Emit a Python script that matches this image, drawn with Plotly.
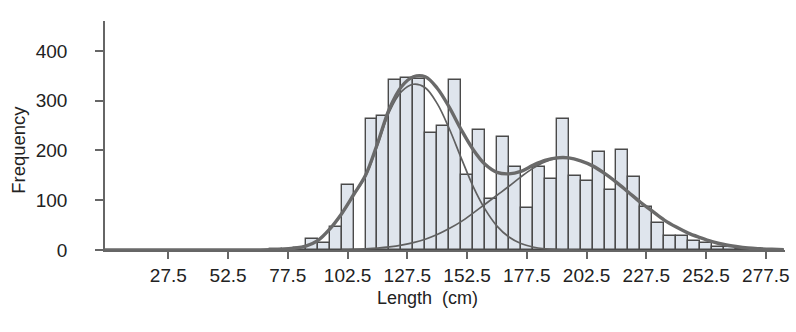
import plotly.graph_objects as go

# ---- histogram data (bin width 5 cm, bins centred on x.5 values) ----
bin_centers = [72.5, 77.5, 82.5, 87.5, 92.5, 97.5, 102.5, 107.5, 112.5, 117.5,
               122.5, 127.5, 132.5, 137.5, 142.5, 147.5, 152.5, 157.5, 162.5, 167.5,
               172.5, 177.5, 182.5, 187.5, 192.5, 197.5, 202.5, 207.5, 212.5, 217.5,
               222.5, 227.5, 232.5, 237.5, 242.5, 247.5, 252.5, 257.5, 262.5, 267.5,
               272.5]
frequencies = [2, 2, 5, 22, 14, 47, 130, 0, 264, 270,
               342, 345, 344, 235, 250, 341, 150, 242, 103, 227,
               167, 85, 166, 142, 263, 149, 138, 196, 121, 200,
               146, 86, 55, 29, 29, 18, 15, 6, 6, 3,
               1]

# ---- fitted curves ----
total_x = [0, 5, 10, 15, 20, 25, 30, 35, 40, 45, 50, 55, 60, 65, 70, 75, 80, 85, 90, 95,
           100, 105, 110, 115, 120, 125, 130, 135, 140, 145, 150, 155, 160, 165, 170,
           175, 180, 185, 190, 195, 200, 205, 210, 215, 220, 225, 230, 235, 240, 245,
           250, 255, 260, 265, 270, 275, 280, 285]
total_fit = [0, 0, 0, 0, 0, 0, 0, 0, 0, 0, 0, 0, 0, 0.2, 0.5, 1.3, 3.5, 8, 19, 42,
             73, 111, 150, 214, 284, 328, 348, 348, 325, 287, 242, 202, 172, 156, 153,
             158, 170, 180, 185, 185, 179, 169, 154, 136, 116, 96, 78, 60, 46, 34,
             25, 17, 11, 7, 4, 2.5, 1.5, 0.8]

comp1_x = [65, 70, 75, 80, 85, 90, 95, 100, 105, 110, 115, 120, 125, 130, 135, 140,
           145, 150, 155, 160, 165, 170, 175, 180, 185, 190, 195, 200]
comp1_fit = [0.2, 0.5, 1.3, 3.4, 8, 19, 42, 72, 110, 148, 210, 278, 318, 333, 326, 294,
             244, 185, 128, 82, 48, 26, 13, 6, 2.5, 1, 0.3, 0]

comp2_x = [100, 105, 110, 115, 120, 125, 130, 135, 140, 145, 150, 155, 160, 165, 170,
           175, 180, 185, 190, 195, 200, 205, 210, 215, 220, 225, 230, 235, 240, 245,
           250, 255, 260, 265, 270, 275, 280, 285]
comp2_fit = [0.7, 1.3, 2.3, 3.8, 6.2, 9.7, 14.7, 21.7, 31, 43, 57, 74, 92, 110, 128,
             147, 164, 177, 184, 185, 179, 169, 154, 136, 116, 96, 78, 60, 46, 34,
             25, 17, 11, 7, 4, 2.5, 1.5, 0.8]

x_tick_vals = [27.5, 52.5, 77.5, 102.5, 127.5, 152.5, 177.5, 202.5, 227.5, 252.5, 277.5]
x_tick_text = ["27.5", "52.5", "77.5", "102.5", "127.5", "152.5", "177.5", "202.5",
               "227.5", "252.5", "277.5"]
y_tick_vals = [0, 100, 200, 300, 400]
y_tick_text = ["0", "100", "200", "300", "400"]

FONT = "Liberation Sans, Arial, sans-serif"

fig = go.Figure()
fig.add_trace(go.Bar(
    x=bin_centers, y=frequencies, width=5,
    marker=dict(color="#dfe5ed", line=dict(color="#4a4a4a", width=1.4)),
    showlegend=False, hoverinfo="x+y"))
fig.add_trace(go.Scatter(
    x=comp1_x, y=comp1_fit, mode="lines", line=dict(color="#606060", width=1.7, shape="spline"),
    showlegend=False))
fig.add_trace(go.Scatter(
    x=comp2_x, y=comp2_fit, mode="lines", line=dict(color="#606060", width=1.7, shape="spline"),
    showlegend=False))
fig.add_trace(go.Scatter(
    x=total_x, y=total_fit, mode="lines", line=dict(color="#6a6a6a", width=3.4, shape="spline"),
    showlegend=False))

fig.update_layout(
    width=796, height=332, autosize=False,
    margin=dict(l=105, r=6, t=21, b=82),
    paper_bgcolor="white", plot_bgcolor="white",
    font=dict(family=FONT, size=18, color="#222222"),
    bargap=0,
    xaxis=dict(range=[1, 285.5], showgrid=False, zeroline=False,
               showline=True, linecolor="#666666", linewidth=1.5,
               ticks="outside", ticklen=7, tickwidth=1.5, tickcolor="#666666",
               tickvals=x_tick_vals, ticktext=x_tick_text,
               tickfont=dict(family=FONT, size=19, color="#222222")),
    yaxis=dict(range=[0, 460], showgrid=False, zeroline=False,
               showline=True, linecolor="#666666", linewidth=1.5,
               ticks="outside", ticklen=8, tickwidth=1.5, tickcolor="#666666",
               tickvals=y_tick_vals, ticktext=y_tick_text,
               ticklabelstandoff=24,
               tickfont=dict(family=FONT, size=19, color="#222222")),
    annotations=[
        dict(text="Length&nbsp;&nbsp;(cm)", x=135.9, xref="x", y=-0.209, yref="paper",
             xanchor="center", yanchor="middle", showarrow=False,
             font=dict(family=FONT, size=18, color="#222222")),
        dict(text="Frequency", x=-0.127, xref="paper", y=0.436, yref="paper",
             xanchor="center", yanchor="middle", textangle=-90, showarrow=False,
             font=dict(family=FONT, size=18.5, color="#222222")),
    ],
)

fig.write_html("out.html", config={"displayModeBar": False},
               post_script="document.body.style.margin='0';document.body.style.padding='0';")
